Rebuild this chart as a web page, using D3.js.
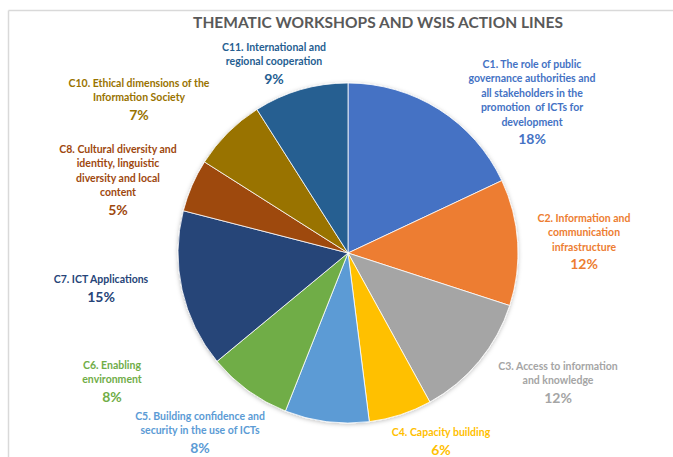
<!DOCTYPE html>
<html>
<head>
<meta charset="utf-8">
<script src="https://cdn.jsdelivr.net/npm/d3@7"></script>
<style>
  body { margin: 0; background: #fff; }
  text { font-family: Lato, "Open Sans", sans-serif; font-weight: bold; }
</style>
</head>
<body>
<div class="pie"></div>
<script>
// chart data
var categories = ["C1", "C2", "C3", "C4", "C5", "C6", "C7", "C8", "C10", "C11"];
var shares = [18, 12, 12, 6, 8, 8, 15, 5, 7, 9];
var labelLines = [
    ["C1. The role of public", "governance authorities and", "all stakeholders in the", "promotion  of ICTs for", "development"],
    ["C2. Information and", "communication", "infrastructure"],
    ["C3. Access to information", "and knowledge"],
    ["C4. Capacity building"],
    ["C5. Building confidence and", "security in the use of ICTs"],
    ["C6. Enabling", "environment"],
    ["C7. ICT Applications"],
    ["C8. Cultural diversity and", "identity, linguistic", "diversity and local", "content"],
    ["C10. Ethical dimensions of the", "Information Society"],
    ["C11. International and", "regional cooperation"]
];
var colors = ["#4472C4", "#ED7D31", "#A5A5A5", "#FFC000", "#5B9BD5", "#70AD47", "#264478", "#9E480E", "#997300", "#255E91"];

// where each label block starts (center x, first line y)
var labelPos = [[532, 64], [584, 218], [558, 366], [441, 432], [200, 416],
                [112, 365], [101, 279], [118, 149], [139, 83], [274, 47]];

var svgWidth = 673;
var svgHeight = 457;
var radius = 170;
var cx = 348, cy = 253;

var svg = d3.select(".pie")
    .append("svg")
    .attr("width", svgWidth)
    .attr("height", svgHeight);

// frame lines of the screenshot
svg.append("line").attr("x1", 8.5).attr("x2", svgWidth).attr("y1", 10.5).attr("y2", 10.5)
    .attr("stroke", "#d9d9d9").attr("stroke-width", 1.5);
svg.append("line").attr("x1", 8.5).attr("x2", 8.5).attr("y1", 10.5).attr("y2", svgHeight)
    .attr("stroke", "#d9d9d9").attr("stroke-width", 1.5);

// title
svg.append("text")
    .attr("x", 378)
    .attr("y", 28)
    .attr("text-anchor", "middle")
    .attr("font-size", 15.5)
    .attr("fill", "#595959")
    .text("THEMATIC WORKSHOPS AND WSIS ACTION LINES");

var defs = svg.append("defs");
var shadow = defs.append("filter").attr("id", "shadow")
    .attr("x", "-10%").attr("y", "-10%").attr("width", "120%").attr("height", "120%");
shadow.append("feDropShadow")
    .attr("dx", 0).attr("dy", 1).attr("stdDeviation", 2)
    .attr("flood-color", "#000").attr("flood-opacity", 0.25);

var data = categories.map(function(c, i) {
    return { cat: c, value: shares[i], lines: labelLines[i], color: colors[i], pos: labelPos[i] };
});

var pie = d3.pie().sort(null).value(d => d.value);
var arc = d3.arc().innerRadius(0).outerRadius(radius);

var pieGroup = svg.append("g")
    .attr("transform", `translate(${cx}, ${cy})`)
    .attr("filter", "url(#shadow)");

pieGroup.selectAll("path")
    .data(pie(data))
    .enter()
    .append("path")
    .attr("d", arc)
    .attr("fill", d => d.data.color)
    .attr("stroke", "#fff")
    .attr("stroke-width", 0.8);

// labels
var lineH = 14.4;
var labels = svg.selectAll(".lbl")
    .data(data)
    .enter()
    .append("g")
    .attr("class", "lbl");

labels.each(function(d) {
    var g = d3.select(this);
    d.lines.forEach(function(line, j) {
        g.append("text")
            .attr("x", d.pos[0])
            .attr("y", d.pos[1] + j * lineH)
            .attr("dominant-baseline", "central")
            .attr("text-anchor", "middle")
            .attr("font-size", 10.5)
            .attr("fill", d.color)
            .style("white-space", "pre")
            .text(line);
    });
    g.append("text")
        .attr("x", d.pos[0])
        .attr("y", d.pos[1] + (d.lines.length - 1) * lineH + 17)
        .attr("dominant-baseline", "central")
        .attr("text-anchor", "middle")
        .attr("font-size", 14)
        .attr("fill", d.color)
        .text(d.value + "%");
});
</script>
</body>
</html>
